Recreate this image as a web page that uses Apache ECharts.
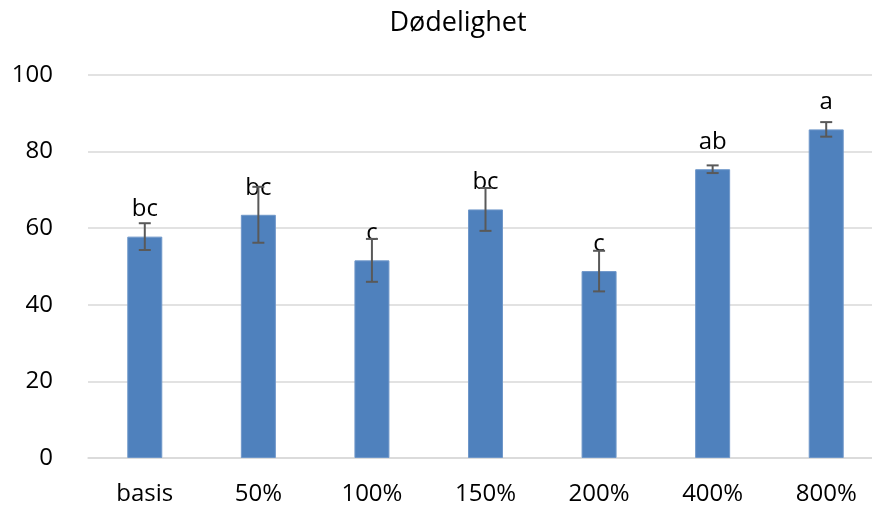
<!DOCTYPE html>
<html>
<head>
<meta charset="utf-8">
<title>Dødelighet</title>
<script src="https://cdn.jsdelivr.net/npm/echarts@6/dist/echarts.min.js"></script>
<style>
  html, body { margin: 0; padding: 0; background: #fff; }
  #chart { width: 872px; height: 508px; }
</style>
</head>
<body>
<div id="chart"></div>
<script>
// data
const categories = ['basis', '50%', '100%', '150%', '200%', '400%', '800%'];
const means = [57.8, 63.5, 51.6, 64.9, 48.8, 75.4, 85.8];
const errors = [3.5, 7.3, 5.6, 5.6, 5.3, 1.0, 1.9];
const letters = ['bc', 'bc', 'c', 'bc', 'c', 'ab', 'a'];
const yTicks = [0, 20, 40, 60, 80, 100];

const FONT = '"Open Sans", sans-serif';

var myChart = echarts.init(document.getElementById('chart'));

// error bars: [index, low, high]
const errData = means.map(function (m, i) {
    return [i, m - errors[i], m + errors[i]];
});

var option = {
    animation: false,
    backgroundColor: '#fff',
    title: {
        text: 'Dødelighet',
        left: 453,
        top: 5,
        textAlign: 'center',
        textStyle: {
            color: '#000',
            fontFamily: FONT,
            fontSize: 27,
            fontWeight: 'normal'
        }
    },
    grid: {
        left: 88,
        width: 795,
        top: 75,
        bottom: 50,
        containLabel: false,
        outerBoundsMode: 'none'
    },
    xAxis: {
        type: 'category',
        data: categories,
        axisLine: { show: true, lineStyle: { color: '#d9d9d9', width: 1.5 } },
        axisTick: { show: false },
        axisLabel: {
            color: '#000',
            fontFamily: FONT,
            fontSize: 24,
            margin: 24
        }
    },
    yAxis: {
        type: 'value',
        min: yTicks[0],
        max: yTicks[yTicks.length - 1],
        interval: 20,
        axisLine: { show: false },
        axisTick: { show: false },
        splitLine: { lineStyle: { color: '#d9d9d9', width: 1.5 } },
        axisLabel: {
            color: '#000',
            fontFamily: FONT,
            fontSize: 24,
            margin: 35
        }
    },
    series: [{
        type: 'bar',
        data: means,
        barWidth: 35,
        itemStyle: { color: '#4f81bd', borderColor: '#6f97c9', borderWidth: 1 },
        label: {
            show: true,
            position: 'top',
            distance: 15,
            color: '#000',
            fontFamily: FONT,
            fontSize: 24,
            lineHeight: 24,
            formatter: function (p) { return letters[p.dataIndex]; }
        },
        z: 2
    }, {
        type: 'custom',
        data: errData,
        z: 3,
        renderItem: function (params, api) {
            const x = api.value(0);
            const lo = api.coord([x, api.value(1)]);
            const hi = api.coord([x, api.value(2)]);
            const half = 6;
            const st = { stroke: '#595959', lineWidth: 2 };
            return {
                type: 'group',
                children: [
                    { type: 'line', shape: { x1: hi[0], y1: hi[1], x2: lo[0], y2: lo[1] }, style: st },
                    { type: 'line', shape: { x1: hi[0] - half, y1: hi[1], x2: hi[0] + half, y2: hi[1] }, style: st },
                    { type: 'line', shape: { x1: lo[0] - half, y1: lo[1], x2: lo[0] + half, y2: lo[1] }, style: st }
                ]
            };
        }
    }]
};

myChart.setOption(option);
window.addEventListener('resize', function () {
    myChart.resize();
});
</script>
</body>
</html>
